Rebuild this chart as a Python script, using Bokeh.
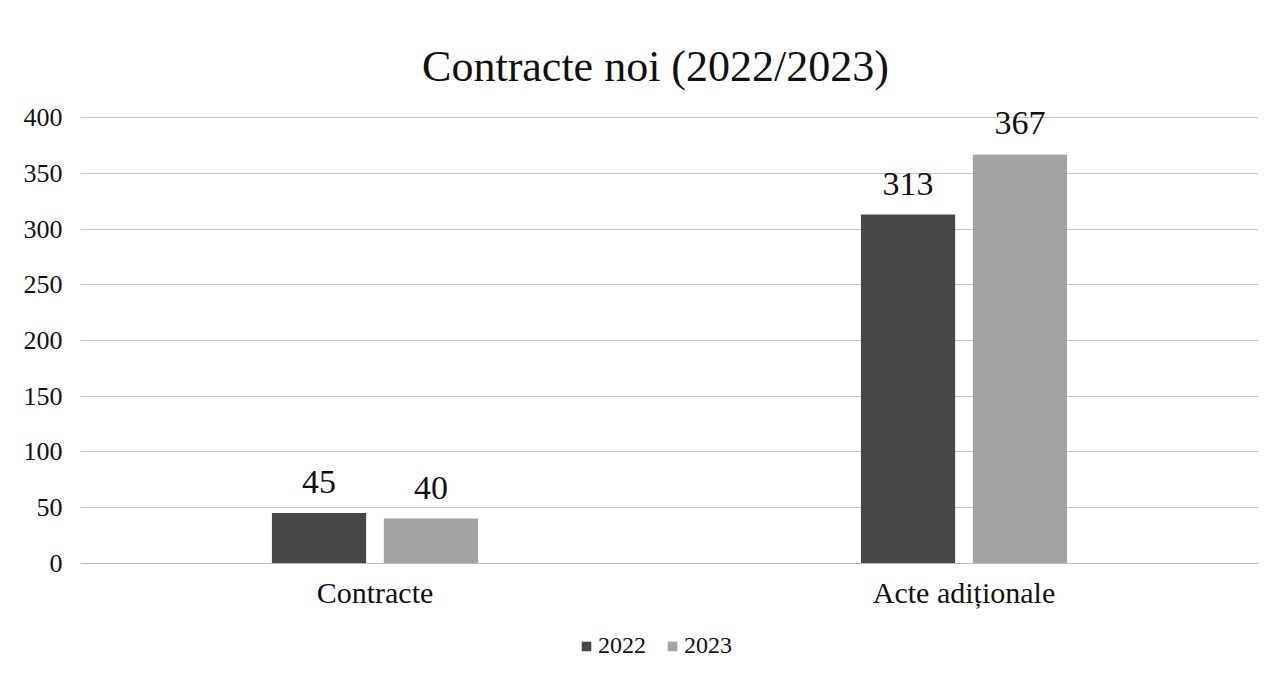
from bokeh.plotting import figure
from bokeh.models import FactorRange, Range1d, Legend, LegendItem, ColumnDataSource, FixedTicker, Label
from bokeh.transform import dodge
from bokeh.core.properties import value
from bokeh.embed import file_html
from bokeh.resources import INLINE

categories = ["Contracte", "Acte adiționale"]
series_names = ["2022", "2023"]
values_2022 = [45, 313]
values_2023 = [40, 367]
y_ticks = [0, 50, 100, 150, 200, 250, 300, 350, 400]
title_text = "Contracte noi (2022/2023)"

FONT = "Liberation Serif"
colors = ["#474747", "#a3a3a3"]

src = ColumnDataSource(dict(
    cat=categories,
    v2022=values_2022,
    v2023=values_2023,
    l2022=[str(v) for v in values_2022],
    l2023=[str(v) for v in values_2023],
))

# the frame reaches up to the title so that the value labels and the title are not clipped
p = figure(frame_width=1178, frame_height=645, output_backend="svg", toolbar_location=None,
           x_range=FactorRange(factors=categories, range_padding=0),
           y_range=Range1d(-92, 487.3),
           min_border_left=80, min_border_right=0, min_border_top=20, min_border_bottom=0)

p.outline_line_color = None
p.background_fill_color = "white"
p.border_fill_color = "white"

off = 0.095
bw = 0.16
r1 = p.vbar(x=dodge("cat", -off, range=p.x_range), top="v2022", width=bw, source=src,
            fill_color=colors[0], line_color=None)
r2 = p.vbar(x=dodge("cat", off, range=p.x_range), top="v2023", width=bw, source=src,
            fill_color=colors[1], line_color=None)

p.text(x=dodge("cat", -off, range=p.x_range), y="v2022", text="l2022", source=src,
       text_align="center", text_baseline="bottom", y_offset=-20,
       text_font=value(FONT), text_font_size="34px", text_color="#111111")
p.text(x=dodge("cat", off, range=p.x_range), y="v2023", text="l2023", source=src,
       text_align="center", text_baseline="bottom", y_offset=-20,
       text_font=value(FONT), text_font_size="34px", text_color="#111111")

# axes
p.yaxis.ticker = FixedTicker(ticks=y_ticks)
p.yaxis.axis_line_color = None
p.yaxis.major_tick_line_color = None
p.yaxis.minor_tick_line_color = None
p.yaxis.major_tick_out = 0
p.yaxis.major_tick_in = 0
p.yaxis.major_label_text_font = FONT
p.yaxis.major_label_text_font_size = "26px"
p.yaxis.major_label_text_color = "#111111"
p.yaxis.major_label_standoff = 18

p.xaxis.fixed_location = 0
p.xaxis.axis_line_color = "#bdbdbd"
p.xaxis.major_tick_line_color = None
p.xaxis.minor_tick_line_color = None
p.xaxis.major_tick_out = 0
p.xaxis.major_tick_in = 0
p.xaxis.major_label_text_font = FONT
p.xaxis.major_label_text_font_size = "30px"
p.xaxis.major_label_text_color = "#111111"
p.xaxis.major_label_standoff = 13

p.xgrid.grid_line_color = None
p.ygrid.ticker = FixedTicker(ticks=y_ticks)
p.ygrid.grid_line_color = "#c8c8c8"
p.ygrid.grid_line_width = 1

# title (inside the tall frame, above the 400 gridline)
p.add_layout(Label(x=575, y=599, x_units="screen", y_units="screen", text=title_text,
                   text_align="center", text_baseline="middle",
                   text_font=FONT, text_font_size="44px", text_color="#111111"))

legend = Legend(items=[LegendItem(label=series_names[0], renderers=[r1]),
                       LegendItem(label=series_names[1], renderers=[r2])],
                orientation="horizontal", location=(500, 6),
                label_text_font=FONT, label_text_font_size="24px", label_text_color="#111111",
                glyph_width=12, glyph_height=12, spacing=20, label_standoff=6,
                background_fill_alpha=0, border_line_color=None,
                margin=0, padding=4)
p.add_layout(legend, "center")

open("out.html", "w").write(file_html(p, INLINE))
